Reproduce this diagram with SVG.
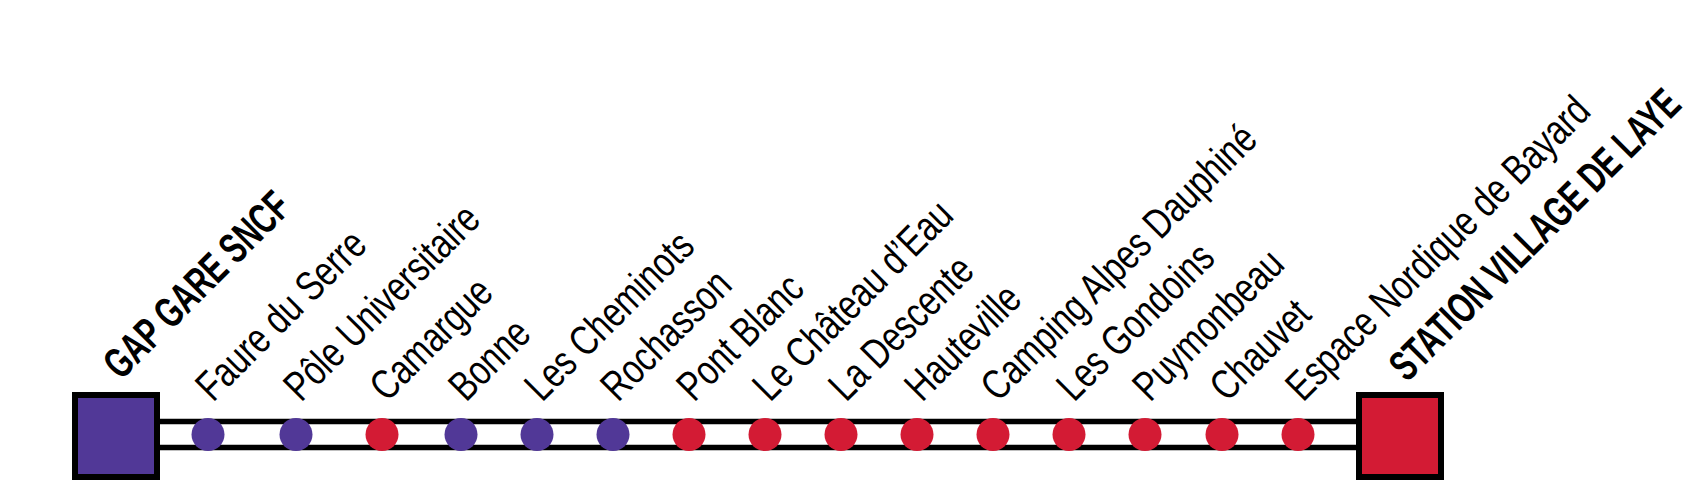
<svg xmlns="http://www.w3.org/2000/svg" width="1697" height="496" viewBox="0 0 1697 496">
<style>
.lbl{font-family:"Liberation Sans",Arial,sans-serif;font-size:42px;fill:#000}
.term{font-family:"Liberation Sans",Arial,sans-serif;font-size:43px;font-weight:bold;fill:#000}
.track{stroke:#000;stroke-width:5.5;fill:none}
.p{fill:#513897}
.r{fill:#d31b34}
.sq{stroke:#000;stroke-width:6}
</style>
<rect width="1697" height="496" fill="#fff"/>
<g id="connectors">
<line class="track" x1="157" y1="421.5" x2="1359" y2="421.5"/>
<line class="track" x1="157" y1="447.5" x2="1359" y2="447.5"/>
</g>
<g id="gap-gare-sncf">
<rect class="sq p" x="75" y="395" width="82" height="82"/>
<text class="term" transform="translate(121,381) rotate(-45) scale(0.68,1)">GAP GARE SNCF</text>
</g>
<g id="faure-du-serre"><circle class="p" cx="208" cy="434.5" r="16.5"/><text class="lbl" transform="translate(213,403) rotate(-45) scale(0.78,1)">Faure du Serre</text></g>
<g id="pole-universitaire"><circle class="p" cx="296" cy="434.5" r="16.5"/><text class="lbl" transform="translate(301,403) rotate(-45) scale(0.78,1)">Pôle Universitaire</text></g>
<g id="camargue"><circle class="r" cx="382" cy="434.5" r="16.5"/><text class="lbl" transform="translate(387,403) rotate(-45) scale(0.78,1)">Camargue</text></g>
<g id="bonne"><circle class="p" cx="461" cy="434.5" r="16.5"/><text class="lbl" transform="translate(466,403) rotate(-45) scale(0.78,1)">Bonne</text></g>
<g id="les-cheminots"><circle class="p" cx="537" cy="434.5" r="16.5"/><text class="lbl" transform="translate(542,403) rotate(-45) scale(0.78,1)">Les Cheminots</text></g>
<g id="rochasson"><circle class="p" cx="613" cy="434.5" r="16.5"/><text class="lbl" transform="translate(618,403) rotate(-45) scale(0.78,1)">Rochasson</text></g>
<g id="pont-blanc"><circle class="r" cx="689" cy="434.5" r="16.5"/><text class="lbl" transform="translate(694,403) rotate(-45) scale(0.78,1)">Pont Blanc</text></g>
<g id="le-chateau-d-eau"><circle class="r" cx="765" cy="434.5" r="16.5"/><text class="lbl" transform="translate(770,403) rotate(-45) scale(0.78,1)">Le Château d’Eau</text></g>
<g id="la-descente"><circle class="r" cx="841" cy="434.5" r="16.5"/><text class="lbl" transform="translate(846,403) rotate(-45) scale(0.78,1)">La Descente</text></g>
<g id="hauteville"><circle class="r" cx="917" cy="434.5" r="16.5"/><text class="lbl" transform="translate(922,403) rotate(-45) scale(0.78,1)">Hauteville</text></g>
<g id="camping-alpes-dauphine"><circle class="r" cx="993" cy="434.5" r="16.5"/><text class="lbl" transform="translate(998,403) rotate(-45) scale(0.78,1)">Camping Alpes Dauphiné</text></g>
<g id="les-gondoins"><circle class="r" cx="1069" cy="434.5" r="16.5"/><text class="lbl" transform="translate(1074,403) rotate(-45) scale(0.78,1)">Les Gondoins</text></g>
<g id="puymonbeau"><circle class="r" cx="1145" cy="434.5" r="16.5"/><text class="lbl" transform="translate(1150,403) rotate(-45) scale(0.78,1)">Puymonbeau</text></g>
<g id="chauvet"><circle class="r" cx="1222" cy="434.5" r="16.5"/><text class="lbl" transform="translate(1227,403) rotate(-45) scale(0.78,1)">Chauvet</text></g>
<g id="espace-nordique-de-bayard"><circle class="r" cx="1298" cy="434.5" r="16.5"/><text class="lbl" transform="translate(1303,403) rotate(-45) scale(0.78,1)">Espace Nordique de Bayard</text></g>
<g id="station-village-de-laye">
<rect class="sq r" x="1359" y="395" width="82" height="82"/>
<text class="term" transform="translate(1407,383) rotate(-45) scale(0.68,1)">STATION VILLAGE DE LAYE</text>
</g>
</svg>
